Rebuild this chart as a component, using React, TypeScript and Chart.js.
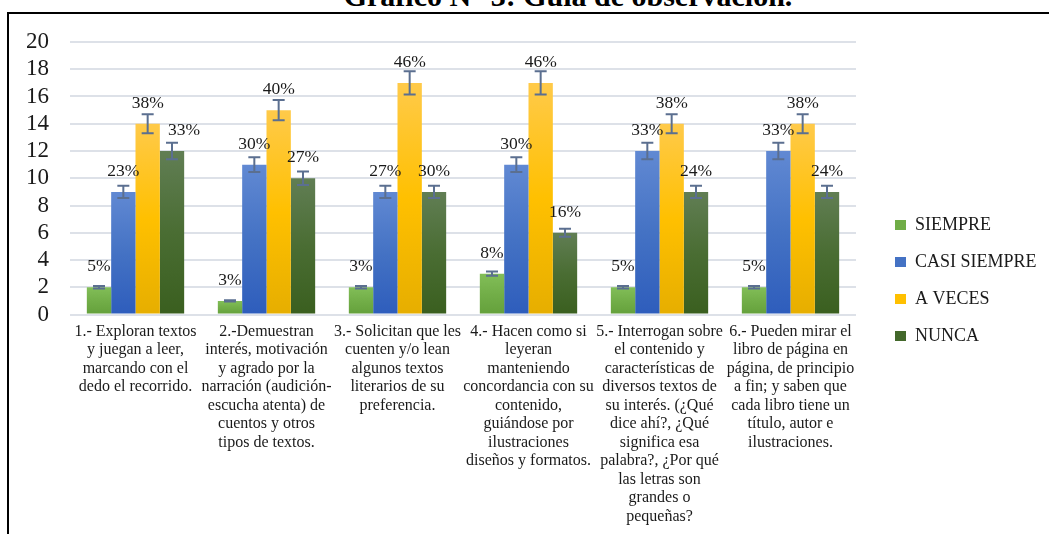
import React, { useEffect, useRef } from "react";
import { Chart, registerables } from "chart.js";
Chart.register(...registerables);

const TITLE = "Gráfico N° 3: Guía de observación.";

const CATEGORIES: string[][] = [
  ["1.- Exploran textos", "y juegan a leer,", "marcando con el", "dedo el recorrido."],
  ["2.-Demuestran", "interés, motivación", "y agrado por la", "narración (audición-", "escucha atenta) de", "cuentos y otros", "tipos de textos."],
  ["3.- Solicitan que les", "cuenten y/o lean", "algunos textos", "literarios de su", "preferencia."],
  ["4.- Hacen como si", "leyeran", "manteniendo", "concordancia con su", "contenido,", "guiándose por", "ilustraciones", "diseños y formatos."],
  ["5.- Interrogan sobre", "el contenido y", "características de", "diversos textos de", "su interés. (¿Qué", "dice ahí?, ¿Qué", "significa esa", "palabra?, ¿Por qué", "las letras son", "grandes o", "pequeñas?"],
  ["6.- Pueden mirar el", "libro de página en", "página, de principio", "a fin; y saben que", "cada libro tiene un", "título, autor e", "ilustraciones."],
];

const SERIES_NAMES = ["SIEMPRE", "CASI SIEMPRE", "A VECES", "NUNCA"];

const SIEMPRE = [2, 1, 2, 3, 2, 2];
const CASI_SIEMPRE = [9, 11, 9, 11, 12, 12];
const A_VECES = [14, 15, 17, 17, 14, 14];
const NUNCA = [12, 10, 9, 6, 9, 9];

const SIEMPRE_PCT = ["5%", "3%", "3%", "8%", "5%", "5%"];
const CASI_SIEMPRE_PCT = ["23%", "30%", "27%", "30%", "33%", "33%"];
const A_VECES_PCT = ["38%", "40%", "46%", "46%", "38%", "38%"];
const NUNCA_PCT = ["33%", "27%", "30%", "16%", "24%", "24%"];

const Y_MIN = 0;
const Y_MAX = 20;
const Y_STEP = 2;

// Excel-style percentage error bars
const ERROR_PERCENT = 5;

const FONT = "'Liberation Serif', 'Times New Roman', serif";
const TEXT = "#1a1a1a";

const SOLID = ["#70ad47", "#4472c4", "#ffc000", "#43682b"];
const GRAD: [string, string, string][] = [
  ["#82be58", "#72ae48", "#64a03b"],
  ["#6189d3", "#4472c4", "#2e5dbc"],
  ["#ffca4a", "#ffc000", "#e6ae00"],
  ["#617e54", "#4a6d33", "#3a5f1f"],
];

const VALUES = [SIEMPRE, CASI_SIEMPRE, A_VECES, NUNCA];
const PCTS = [SIEMPRE_PCT, CASI_SIEMPRE_PCT, A_VECES_PCT, NUNCA_PCT];

const LEGEND_WIDTH = 193;
const LEGEND_SHIFT_X = 20;
const LEGEND_SHIFT_Y = -7.5;
const Y_AXIS_WIDTH = 44;

const legendPatch = {
  id: "legendPatch",
  beforeUpdate(chart: any) {
    const lg = chart.legend;
    if (lg && !lg.__patched) {
      lg.__patched = true;
      const fit = lg.fit.bind(lg);
      lg.fit = function () {
        fit();
        this.width = LEGEND_WIDTH;
      };
      const draw = lg.draw.bind(lg);
      lg.draw = function () {
        const l = this.left, t = this.top, b = this.bottom;
        this.left = l + LEGEND_SHIFT_X;
        this.top = t + LEGEND_SHIFT_Y;
        this.bottom = b + LEGEND_SHIFT_Y;
        draw();
        this.left = l;
        this.top = t;
        this.bottom = b;
      };
    }
  },
};

const errorBarsAndLabels = {
  id: "errorBarsAndLabels",
  afterDatasetsDraw(chart: any) {
    const ctx = chart.ctx;
    const y = chart.scales.y;
    ctx.save();
    ctx.strokeStyle = "#5b6f90";
    ctx.lineWidth = 2;
    chart.data.datasets.forEach((ds: any, di: number) => {
      const meta = chart.getDatasetMeta(di);
      meta.data.forEach((bar: any, i: number) => {
        const v = ds.data[i];
        const e = (v * ERROR_PERCENT) / 100;
        const yt = y.getPixelForValue(v + e);
        const yb = y.getPixelForValue(v - e);
        const x = bar.x;
        ctx.beginPath();
        ctx.moveTo(x, yt);
        ctx.lineTo(x, yb);
        ctx.moveTo(x - 6, yt);
        ctx.lineTo(x + 6, yt);
        ctx.moveTo(x - 6, yb);
        ctx.lineTo(x + 6, yb);
        ctx.stroke();
      });
    });
    ctx.fillStyle = TEXT;
    ctx.font = `17.5px ${FONT}`;
    ctx.textAlign = "center";
    ctx.textBaseline = "middle";
    chart.data.datasets.forEach((ds: any, di: number) => {
      const meta = chart.getDatasetMeta(di);
      meta.data.forEach((bar: any, i: number) => {
        let dx = 0;
        if (di === 3 && i === 0) dx = 12;
        ctx.fillText(PCTS[di][i], bar.x + dx, bar.y - 20.5);
      });
    });
    ctx.restore();
  },
};

export default function App() {
  const ref = useRef<HTMLCanvasElement | null>(null);

  useEffect(() => {
    if (!ref.current) return;
    const datasets = SERIES_NAMES.map((name, si) => ({
      label: name,
      data: VALUES[si],
      backgroundColor: (c: any) => {
        const chart = c.chart;
        if (c.type !== "data" || !chart.chartArea || !chart.scales.y) return SOLID[si];
        const ys = chart.scales.y;
        const top = ys.getPixelForValue(c.raw);
        const bottom = ys.getPixelForValue(0);
        if (!isFinite(top) || !isFinite(bottom) || bottom - top < 1) return SOLID[si];
        const g = chart.ctx.createLinearGradient(0, top, 0, bottom);
        g.addColorStop(0, GRAD[si][0]);
        g.addColorStop(0.5, GRAD[si][1]);
        g.addColorStop(1, GRAD[si][2]);
        return g;
      },
      borderWidth: 0,
      barPercentage: 1,
      categoryPercentage: 0.743,
    }));

    const chart = new Chart(ref.current, {
      type: "bar",
      data: { labels: CATEGORIES, datasets },
      plugins: [legendPatch, errorBarsAndLabels],
      options: {
        animation: false,
        responsive: false,
        maintainAspectRatio: false,
        layout: { padding: { left: 17, right: 0, top: 28, bottom: 0 } },
        plugins: {
          title: { display: false },
          tooltip: { enabled: false },
          legend: {
            position: "right",
            align: "center",
            labels: {
              color: TEXT,
              font: { family: FONT, size: 18 },
              boxWidth: 11,
              boxHeight: 10,
              padding: 19,
              generateLabels: () =>
                SERIES_NAMES.map((n, i) => ({
                  text: n,
                  fillStyle: SOLID[i],
                  strokeStyle: SOLID[i],
                  lineWidth: 0,
                  hidden: false,
                  datasetIndex: i,
                  fontColor: TEXT,
                })),
            },
          },
        },
        scales: {
          x: {
            grid: { display: false, drawTicks: false },
            border: { display: false },
            afterFit: (s: any) => {
              s.paddingLeft = 0;
              s.paddingRight = 0;
            },
            ticks: {
              color: TEXT,
              font: { family: FONT, size: 16, lineHeight: "18.5px" },
              padding: 8,
              autoSkip: false,
              maxRotation: 0,
              minRotation: 0,
            },
          },
          y: {
            min: Y_MIN,
            max: Y_MAX,
            grid: { color: "#dde1e8", lineWidth: 2, drawTicks: false },
            border: { display: false },
            afterFit: (s: any) => {
              s.width = Y_AXIS_WIDTH;
              s.paddingTop = 0;
              s.paddingBottom = 0;
            },
            ticks: {
              stepSize: Y_STEP,
              autoSkip: false,
              color: TEXT,
              font: { family: FONT, size: 23, lineHeight: 1 },
              padding: 21,
            },
          },
        },
      },
    });
    return () => chart.destroy();
  }, []);

  return (
    <div style={{ position: "absolute", left: 0, top: 0, width: 1049, height: 534, overflow: "hidden", background: "#fff" }}>
      <div
        style={{
          position: "absolute",
          left: 568 - 400,
          width: 800,
          top: -19,
          textAlign: "center",
          fontFamily: FONT,
          fontWeight: "bold",
          fontSize: 30,
          lineHeight: "30px",
          color: "#000",
          whiteSpace: "nowrap",
        }}
      >
        {TITLE}
      </div>
      <div
        style={{
          position: "absolute",
          left: 7,
          top: 12,
          width: 1100,
          height: 600,
          borderTop: "2px solid #000",
          borderLeft: "2px solid #000",
        }}
      />
      <canvas
        ref={ref}
        width={1040}
        height={520}
        style={{ position: "absolute", left: 9, top: 14, width: 1040, height: 520 }}
      />
    </div>
  );
}
